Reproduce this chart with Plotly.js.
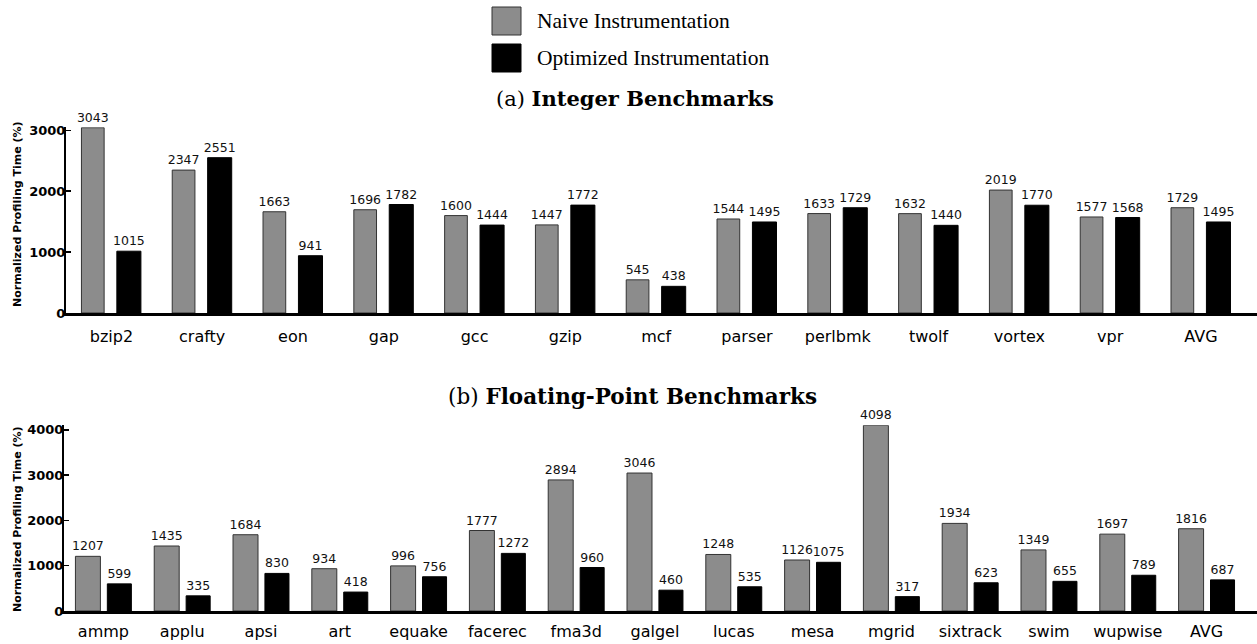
<!DOCTYPE html>
<html>
<head>
<meta charset="utf-8">
<script src="https://cdn.plot.ly/plotly-3.0.1.min.js"></script>
<style>html,body{margin:0;padding:0;background:#fff;}#chart{width:1257px;height:644px;}</style>
</head>
<body>
<div id="chart"></div>
<script>
const intCategories = ["bzip2","crafty","eon","gap","gcc","gzip","mcf","parser","perlbmk","twolf","vortex","vpr","AVG"];
const intNaive = [3043,2347,1663,1696,1600,1447,545,1544,1633,1632,2019,1577,1729];
const intOptimized = [1015,2551,941,1782,1444,1772,438,1495,1729,1440,1770,1568,1495];

const fpCategories = ["ammp","applu","apsi","art","equake","facerec","fma3d","galgel","lucas","mesa","mgrid","sixtrack","swim","wupwise","AVG"];
const fpNaive = [1207,1435,1684,934,996,1777,2894,3046,1248,1126,4098,1934,1349,1697,1816];
const fpOptimized = [599,335,830,418,756,1272,960,460,535,1075,317,623,655,789,687];

const seriesNames = ["Naive Instrumentation","Optimized Instrumentation"];
const intTicks = [0,1000,2000,3000];
const fpTicks = [0,1000,2000,3000,4000];

const W = 1257, H = 644;
const grayFill = "#8c8c8c", grayLine = "#333333";
const labelFont = {family:"DejaVu Sans", size:12.5, color:"#111"};

function bar(x, y, xa, ya, fill, line, offset, width){
  return {type:"bar", x:x, y:y, xaxis:xa, yaxis:ya,
    marker:{color:fill, line:{color:line, width:1}},
    offset:offset, width:width,
    texttemplate:"%{y}", textposition:"outside",
    textfont:labelFont, constraintext:"none", cliponaxis:false,
    showlegend:false, hoverinfo:"skip"};
}

const data = [
  bar(intCategories, intNaive, "x", "y", grayFill, grayLine, -0.33, 0.25),
  bar(intCategories, intOptimized, "x", "y", "#000", "#000", 0.06, 0.265),
  bar(fpCategories, fpNaive, "x2", "y2", grayFill, grayLine, -0.355, 0.317),
  bar(fpCategories, fpOptimized, "x2", "y2", "#000", "#000", 0.05, 0.305)
];

const xTickFont = {family:"DejaVu Sans", size:16, color:"#000"};
const yTickFont = {family:"DejaVu Sans", size:13, color:"#000", weight:"bold"};

function xaxis(domain, range, anchor, standoff){
  return {domain:domain, range:range, anchor:anchor, type:"category",
    showline:true, linecolor:"#000", linewidth:3, ticks:"", showgrid:false,
    zeroline:false, tickfont:xTickFont, ticklabelstandoff:standoff, automargin:false, fixedrange:true};
}
function yaxis(domain, range, anchor, ticks){
  return {domain:domain, range:range, anchor:anchor,
    showline:true, linecolor:"#000", linewidth:2, ticks:"inside", ticklen:5, tickwidth:1.5, tickcolor:"#000",
    tickvals:ticks, ticktext:ticks.map(String), showgrid:false, zeroline:false,
    tickfont:yTickFont, ticklabelstandoff:-4, automargin:false, fixedrange:true};
}

const layout = {
  width:W, height:H, margin:{l:0,r:0,t:0,b:0},
  paper_bgcolor:"#fff", plot_bgcolor:"#fff",
  xaxis: xaxis([66/W, 1], [-0.5, 12.617], "y", 7),
  yaxis: yaxis([1-313/H, 1-127.3/H], [0, 3050], "x", intTicks),
  xaxis2: xaxis([64/W, 1], [-0.5, 14.64], "y2", 4),
  yaxis2: yaxis([1-611/H, 1-425.3/H], [0, 4100], "x2", fpTicks),
  shapes: [
    {type:"rect", xref:"paper", yref:"paper", x0:492/W, x1:521/W, y0:1-35/H, y1:1-7/H, fillcolor:grayFill, line:{color:grayLine, width:1}},
    {type:"rect", xref:"paper", yref:"paper", x0:492/W, x1:521/W, y0:1-72/H, y1:1-44/H, fillcolor:"#000", line:{color:"#000", width:1}}
  ],
  annotations: [
    {text:seriesNames[0], xref:"paper", yref:"paper", x:535/W, y:1-21/H, xanchor:"left", yanchor:"middle", showarrow:false, font:{family:"Liberation Serif", size:21.5, color:"#000"}},
    {text:seriesNames[1], xref:"paper", yref:"paper", x:535/W, y:1-58/H, xanchor:"left", yanchor:"middle", showarrow:false, font:{family:"Liberation Serif", size:21.5, color:"#000"}},
    {text:"(a) <b>Integer Benchmarks</b>", xref:"paper", yref:"paper", x:635/W, y:1-98/H, xanchor:"center", yanchor:"middle", showarrow:false, font:{family:"DejaVu Serif", size:21, color:"#000"}},
    {text:"(b) <b>Floating-Point Benchmarks</b>", xref:"paper", yref:"paper", x:632/W, y:1-396/H, xanchor:"center", yanchor:"middle", showarrow:false, font:{family:"DejaVu Serif", size:21.5, color:"#000"}},
    {text:"<b>Normalized Profiling Time (%)</b>", xref:"paper", yref:"paper", x:17/W, y:1-214/H, xanchor:"center", yanchor:"middle", textangle:-90, showarrow:false, font:{family:"DejaVu Sans", size:11, color:"#000"}},
    {text:"<b>Normalized Profiling Time (%)</b>", xref:"paper", yref:"paper", x:17/W, y:1-519/H, xanchor:"center", yanchor:"middle", textangle:-90, showarrow:false, font:{family:"DejaVu Sans", size:11, color:"#000"}}
  ]
};

Plotly.newPlot("chart", data, layout, {staticPlot:true, displayModeBar:false});
</script>
</body>
</html>
